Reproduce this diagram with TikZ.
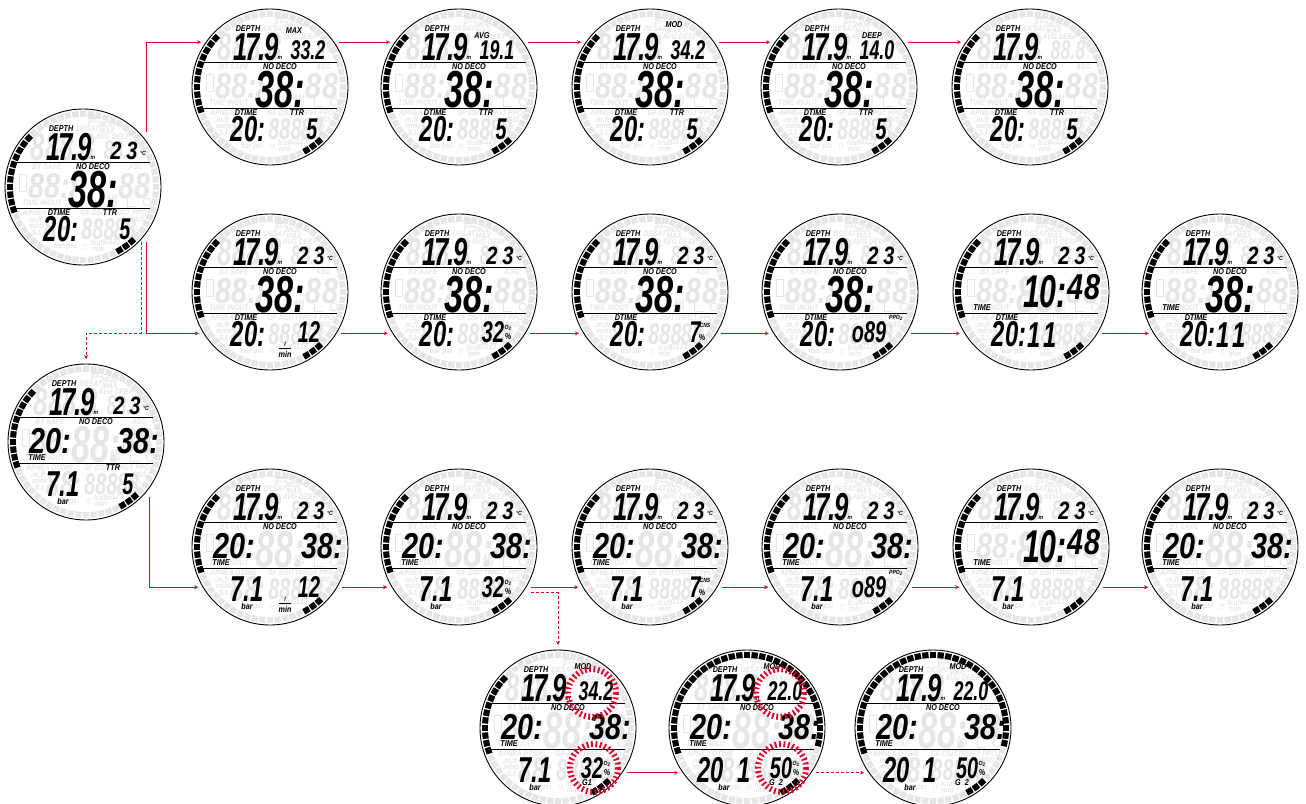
\documentclass[tikz,border=0pt]{standalone}
\usepackage{fontspec}
\setmainfont{Liberation Sans}
\newfontfamily\lcdfamily{Liberation Sans}[FakeStretch=0.66]
\newfontfamily\widefamily{Liberation Sans}[FakeStretch=0.8]
\newfontfamily\tagfamily{Liberation Sans}[FakeStretch=0.85]
\usetikzlibrary{arrows.meta}
\definecolor{flowred}{HTML}{D9042B}
\definecolor{ghostgray}{HTML}{E6E6E6}
\newcommand{\lcdsize}[1]{\lcdfamily\bfseries\itshape\fontsize{#1}{#1}\selectfont}
\newcommand{\widesize}[1]{\widefamily\bfseries\itshape\fontsize{#1}{#1}\selectfont}
\newcommand{\tagsize}[1]{\tagfamily\bfseries\itshape\fontsize{#1}{#1}\selectfont}
\tikzset{
  dialrim/.style={circle,draw,line width=0.9pt,minimum size=156pt,inner sep=0pt,outer sep=0pt},
  ticklight/.style={draw=ghostgray,line width=6.3pt},
  tickdark/.style={draw=black,line width=6.3pt},
  rowline/.style={draw=black,line width=0.9pt},
  bigdigit/.style={inner sep=0pt,font=\lcdsize{52}},
  clockdigit/.style={inner sep=0pt,font=\lcdsize{46}},
  middigit/.style={inner sep=0pt,font=\lcdsize{36}},
  splitdigit/.style={inner sep=0pt,font=\widesize{36}},
  depthdigit/.style={inner sep=0pt,font=\lcdsize{39}},
  topdigit/.style={inner sep=0pt,font=\lcdsize{27}},
  tempdigit/.style={inner sep=0pt,font=\widesize{25}},
  lowdigit/.style={inner sep=0pt,font=\lcdsize{30}},
  blacktag/.style={inner sep=0pt,font=\tagsize{8.5}},
  tinytag/.style={inner sep=0pt,font=\tagsize{6}},
  ghostdigit/.style={text=ghostgray},
  ghosttag/.style={inner sep=0pt,text=ghostgray,font=\tagsize{8}},
  ghostshape/.style={fill=ghostgray,draw=none},
  ghostline/.style={draw=ghostgray,line width=1pt},
  hashring/.style={draw=flowred,line width=6pt,dash pattern=on 1.8pt off 2.6pt},
  flow/.style={draw=flowred,line width=0.8pt,-{Stealth[length=4pt,width=4pt]},shorten <=5pt,shorten >=5pt},
  flowdash/.style={flow,dash pattern=on 3pt off 2pt}
}
\def\plainticks{138,144,...,198,-60,-54,-48}
\def\wideticks{-60,-54,-48,-12,-6,...,198}
\newcommand{\putlcd}[5]{\node[#1] (\dname-#2) at (#3,#4) {#5};}
\newcommand{\dial}[5]{%
  \def\dname{#1}
  \node[dialrim] (#1) at (#2,#3) {};
  \begin{scope}[shift={(#2,#3)}]
    \foreach \a in {0,6,...,354} \draw[ticklight] (\a:70pt) -- (\a:76pt);
    \fill[ghostshape] (4,-68) -- (9,-72) -- (14,-68) -- cycle;
    \draw[ghostline] (-64,-13) rectangle (-57,4);
    \draw[ghostline] (64,15) circle (4);
    \draw[ghostline] (44,11) -- (44,19) -- (53,19);
    \putlcd{ghosttag}{g1}{11}{-64}{p++}
    \putlcd{ghosttag}{g2}{5}{-58}{DESAT}
    \putlcd{ghosttag}{g3}{24}{-62}{MOD}
    \putlcd{ghosttag}{g4}{24}{-56}{MAX}
    \putlcd{ghosttag}{g5}{30}{-50}{AVG DEEP}
    \putlcd{ghosttag}{g6}{-36}{-20}{BT SAFE}
    \putlcd{ghosttag}{g7}{53}{-20}{ASC}
    \putlcd{ghosttag}{g8}{-41}{16}{TIME INOUT}
    \putlcd{ghosttag}{g9}{-48}{26}{APNEA}
    \putlcd{ghosttag}{g10}{-24}{26}{DTIME}
    \putlcd{ghosttag}{g11}{9}{26}{GF DSI}
    \putlcd{ghosttag}{g12}{27}{26}{TTR}
    \putlcd{ghosttag}{g13}{50}{26}{RGT PPO\textsubscript{2}}
    \putlcd{ghosttag}{g14}{-48}{33}{.m.ft}
    \putlcd{ghosttag}{g15}{-46}{39}{mins}
    \putlcd{ghosttag}{g16}{-46}{46}{S.I.}
    \putlcd{ghosttag}{g17}{54}{33}{CNS}
    \putlcd{ghosttag}{g18}{51}{39}{O\textsubscript{2}}
    \putlcd{ghosttag}{g19}{51}{46}{\%}
    \putlcd{ghosttag}{g20}{-18}{59}{bar psi}
    \putlcd{ghosttag}{g21}{2}{60}{!!}
    \putlcd{ghosttag}{g22}{15}{56}{lcuft}
    \putlcd{ghosttag}{g23}{15}{62}{min}
    \putlcd{ghosttag}{g24}{29}{55}{G123}
    \putlcd{ghosttag}{g25}{29}{11}{AM}
    \putlcd{ghosttag}{g26}{29}{17}{PM}
    \putlcd{ghosttag}{g27}{59}{-36}{°F}
    \putlcd{depthdigit,ghostdigit}{g28}{-20}{-40}{888.8}
    \putlcd{topdigit,ghostdigit}{g29}{38}{-37}{88.8}
    \putlcd{splitdigit,ghostdigit}{g30}{-34}{-1}{88:}
    \putlcd{bigdigit,ghostdigit}{g31}{10}{3}{88:}
    \putlcd{splitdigit,ghostdigit}{g32}{52}{-1}{88}
    \putlcd{middigit,ghostdigit}{g33}{-22}{42}{88:}
    \putlcd{lowdigit,ghostdigit}{g34}{15}{42}{888}
    \putlcd{lowdigit,ghostdigit}{g35}{42}{42}{88}
    \foreach \a in #4 \draw[tickdark] (\a:70pt) -- (\a:76pt);
    \draw[rowline] (-67,-25) -- (67,-25);
    \draw[rowline] (-67,21) -- (67,21);
    \putlcd{blacktag}{depth}{-22}{-58}{DEPTH}
    \putlcd{depthdigit}{read}{-14}{-40}{1\kern-2.5pt 7\kern-1pt .\kern-1pt 9}
    \putlcd{tinytag}{metre}{10}{-29}{m}
    #5
  \end{scope}
}
\newcommand{\toptemp}{\putlcd{tempdigit}{temp}{41}{-36}{2\kern5pt 3}\putlcd{tinytag}{unit}{60}{-34}{°C}}
\newcommand{\topvalue}[4]{\putlcd{blacktag}{tag}{#2}{#3}{#1}\putlcd{topdigit}{value}{38}{-37}{#4}}
\newcommand{\nodeco}{\putlcd{blacktag}{deco}{10}{-20}{NO DECO}}
\newcommand{\timetag}{\putlcd{blacktag}{time}{-49}{16}{TIME}}
\newcommand{\midcentre}{\nodeco\putlcd{bigdigit}{stop}{10}{3}{38:}}
\newcommand{\midsplit}{\nodeco\timetag\putlcd{splitdigit}{dive}{-36}{-1}{20:}\putlcd{splitdigit}{stop}{52}{-1}{38:}}
\newcommand{\midclock}{\timetag\putlcd{clockdigit}{hour}{14}{0}{10:}\putlcd{splitdigit}{minute}{53}{-5}{48}}
\newcommand{\lowdive}{\putlcd{blacktag}{dtime}{-24}{26}{DTIME}\putlcd{middigit}{dive}{-22}{42}{20:}}
\newcommand{\lowbar}[1]{\putlcd{middigit}{bar}{-23}{42}{#1}\putlcd{blacktag}{barunit}{-23}{59}{bar}}
\newcommand{\ttrfive}{\putlcd{blacktag}{ttr}{27}{26}{TTR}\putlcd{lowdigit}{ttrval}{42}{42}{5}}
\newcommand{\gasflow}{\putlcd{lowdigit}{flow}{39}{40}{12}\putlcd{tinytag}{litre}{15}{52}{l}\putlcd{blacktag}{permin}{15}{62}{min}\draw[rowline,line width=0.6pt] (9,56) -- (21,56);}
\newcommand{\oxy}[1]{\putlcd{lowdigit}{oxy}{34}{40}{#1}\putlcd{tinytag}{oxytag}{49}{36}{O\textsubscript{2}}\putlcd{blacktag}{oxyunit}{49}{45}{\%}}
\newcommand{\cns}{\putlcd{lowdigit}{cns}{45}{40}{7}\putlcd{tinytag}{cnstag}{55}{33}{CNS}\putlcd{blacktag}{cnsunit}{52}{46}{\%}}
\newcommand{\ppo}{\putlcd{lowdigit}{ppo}{29}{40}{o89}\putlcd{tinytag}{ppotag}{56}{26}{PPO\textsubscript{2}}}
\begin{document}
\begin{tikzpicture}[x=1pt,y=-1pt]
\useasboundingbox (0,0) rectangle (1306,803);
\dial{maina}{83}{187}{\plainticks}{\toptemp\midcentre\lowdive\ttrfive}
\dial{rowa1}{270}{87}{\plainticks}{\topvalue{MAX}{24}{-56}{33.2}\midcentre\lowdive\ttrfive}
\dial{rowa2}{459}{87}{\plainticks}{\topvalue{AVG}{23}{-51}{19.1}\midcentre\lowdive\ttrfive}
\dial{rowa3}{650}{87}{\plainticks}{\topvalue{MOD}{24}{-62}{34.2}\midcentre\lowdive\ttrfive}
\dial{rowa4}{839}{87}{\plainticks}{\topvalue{DEEP}{33}{-51}{14.0}\midcentre\lowdive\ttrfive}
\dial{rowa5}{1030}{87}{\plainticks}{\midcentre\lowdive\ttrfive}
\dial{rowb1}{270}{292}{\plainticks}{\toptemp\midcentre\lowdive\gasflow}
\dial{rowb2}{459}{292}{\plainticks}{\toptemp\midcentre\lowdive\oxy{32}}
\dial{rowb3}{650}{292}{\plainticks}{\toptemp\midcentre\lowdive\cns}
\dial{rowb4}{840}{292}{\plainticks}{\toptemp\midcentre\lowdive\ppo}
\dial{rowb5}{1031}{292}{\plainticks}{\toptemp\midclock\lowdive\putlcd{middigit}{split}{11}{43}{1\kern3pt 1}}
\dial{rowb6}{1220}{292}{\plainticks}{\toptemp\midcentre\timetag\lowdive\putlcd{middigit}{split}{11}{43}{1\kern3pt 1}}
\dial{mainb}{86}{442}{\plainticks}{\toptemp\midsplit\lowbar{7.1}\ttrfive}
\dial{rowc1}{270}{547}{\plainticks}{\toptemp\midsplit\lowbar{7.1}\gasflow}
\dial{rowc2}{459}{547}{\plainticks}{\toptemp\midsplit\lowbar{7.1}\oxy{32}}
\dial{rowc3}{650}{547}{\plainticks}{\toptemp\midsplit\lowbar{7.1}\cns}
\dial{rowc4}{840}{547}{\plainticks}{\toptemp\midsplit\lowbar{7.1}\ppo}
\dial{rowc5}{1031}{547}{\plainticks}{\toptemp\midclock\lowbar{7.1}}
\dial{rowc6}{1220}{547}{\plainticks}{\toptemp\midsplit\lowbar{7.1}}
\dial{grpa}{558}{728}{\plainticks}{\topvalue{MOD}{25}{-61}{34.2}\midsplit\lowbar{7.1}\oxy{32}\putlcd{blacktag}{gas}{29}{55}{G1}
  \draw[hashring] (34,-35) circle (24);\draw[hashring] (36,40) circle (24);}
\dial{grpb}{747}{728}{\wideticks}{\topvalue{MOD}{25}{-61}{22.0}\midsplit\lowbar{20\kern14pt 1}\oxy{50}\putlcd{blacktag}{gas}{29}{55}{G\kern4pt 2}
  \draw[hashring] (33,-35) circle (24);\draw[hashring] (35,40) circle (24);}
\dial{grpc}{933}{728}{\wideticks}{\topvalue{MOD}{25}{-61}{22.0}\midsplit\lowbar{20\kern14pt 1}\oxy{50}\putlcd{blacktag}{gas}{29}{55}{G\kern4pt 2}}
\coordinate (fork) at (maina.-42 |- rowb1.-148);
\draw[flow,shorten <=9pt] (maina.36) |- (rowa1.145);
\draw[flow,shorten <=9pt] (maina.-36) |- (rowb1.-148);
\draw[flowdash,shorten <=3pt] (maina.-42) -- (fork) -| (mainb.north);
\draw[flow,shorten <=9pt] (mainb.-36) |- (rowc1.-149);
\foreach \i/\j in {1/2,2/3,3/4,4/5} \draw[flow] (rowa\i.35) -- (rowa\j.145);
\foreach \i/\j in {1/2,2/3,3/4,4/5,5/6} \draw[flow] (rowb\i.-32) -- (rowb\j.-148);
\foreach \i/\j in {1/2,2/3,3/4,4/5,5/6} \draw[flow] (rowc\i.-31) -- (rowc\j.-149);
\draw[flowdash,shorten <=9pt] (rowc2.-36) -| (grpa.north);
\draw[flow] (grpa.-35) -- (grpb.-145);
\draw[flowdash] (grpb.-35) -- (grpc.-145);
\end{tikzpicture}
\end{document}
